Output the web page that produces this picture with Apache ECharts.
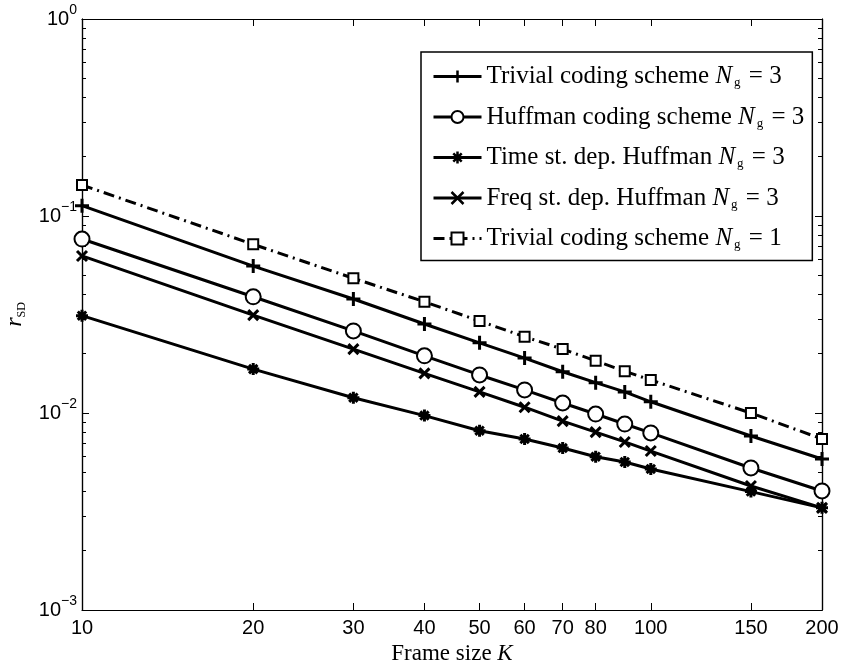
<!DOCTYPE html>
<html>
<head>
<meta charset="utf-8">
<script src="https://cdn.jsdelivr.net/npm/echarts@6/dist/echarts.min.js"></script>
<style>
html, body { margin: 0; padding: 0; background: #fff; }
#chart { width: 846px; height: 664px; }
</style>
</head>
<body>
<div id="chart"></div>
<script>
// frame sizes K
const frameSizes = [10, 20, 30, 40, 50, 60, 70, 80, 90, 100, 150, 200];

// r_SD values
const trivial3 = [0.1128, 0.0557, 0.0379, 0.0283, 0.0227, 0.0190, 0.0162, 0.01426, 0.0128, 0.0114, 0.00764, 0.00584];
const huffman3 = [0.0764, 0.0389, 0.0261, 0.0195, 0.0156, 0.0131, 0.01124, 0.00988, 0.00879, 0.00792, 0.00526, 0.00402];
const timeDep3 = [0.0312, 0.0167, 0.01196, 0.0097, 0.00813, 0.00738, 0.00664, 0.0060, 0.00564, 0.0052, 0.00399, 0.0033];
const freqDep3 = [0.0627, 0.0314, 0.0211, 0.0159, 0.0128, 0.0107, 0.0091, 0.0080, 0.00713, 0.00641, 0.00426, 0.0033];
const trivial1 = [0.1437, 0.0718, 0.0483, 0.0367, 0.0293, 0.0244, 0.0211, 0.0184, 0.0163, 0.0147, 0.0100, 0.00738];

const xTicks = [10, 20, 30, 40, 50, 60, 70, 80, 100, 150, 200];
const yMajor = [0.001, 0.01, 0.1, 1];
const yMinor = [];
for (let d = 0; d < yMajor.length - 1; d++) {
    for (let k = 2; k <= 9; k++) yMinor.push(+(yMajor[d] * k).toPrecision(3));
}

const SANS = '"Liberation Sans", Arial, sans-serif';
const SERIF = '"Liberation Serif", "Times New Roman", serif';

const pair = (ys) => frameSizes.map((x, i) => [x, ys[i]]);

const chart = echarts.init(document.getElementById('chart'));

const axisLine = { show: true, onZero: false, lineStyle: { color: '#000', width: 1.2 } };
const tickStyle = { color: '#000', width: 1 };

function xAxisDef(pos, withLabels) {
    return {
        type: 'log',
        position: pos,
        min: 10,
        max: 200,
        axisLine: axisLine,
        axisTick: { show: true, inside: true, length: 7, customValues: xTicks, lineStyle: tickStyle },
        axisLabel: {
            show: withLabels,
            customValues: xTicks,
            color: '#000',
            fontFamily: SANS,
            fontSize: 20,
            margin: 8
        },
        splitLine: { show: false },
        minorTick: { show: false },
        name: withLabels ? '{t|Frame size }{i|K}' : '',
        nameLocation: 'middle',
        nameGap: 27,
        nameTextStyle: {
            rich: {
                t: { fontFamily: SERIF, fontSize: 23, color: '#000' },
                i: { fontFamily: SERIF, fontSize: 23, fontStyle: 'italic', color: '#000' }
            }
        }
    };
}

function yAxisDef(pos, ticks, len, withLabels) {
    return {
        type: 'log',
        position: pos,
        min: 0.001,
        max: 1,
        axisLine: axisLine,
        axisTick: { show: true, inside: true, length: len, customValues: ticks, lineStyle: tickStyle },
        axisLabel: {
            show: withLabels,
            customValues: yMajor,
            margin: 5,
            formatter: (v) => '{b|10}{s|' + Math.round(Math.log10(v)).toString().replace('-', '\u2212') + '}',
            rich: {
                b: { fontFamily: SANS, fontSize: 20, lineHeight: 32, color: '#000' },
                s: { fontFamily: SANS, fontSize: 14, lineHeight: 14, verticalAlign: 'top', padding: [0, 0, 18, 0], color: '#000' }
            }
        },
        splitLine: { show: false },
        minorTick: { show: false },
        name: withLabels ? '{i|r}{s|SD}' : '',
        nameLocation: 'middle',
        nameRotate: 90,
        nameGap: 50,
        nameTextStyle: {
            rich: {
                i: { fontFamily: SERIF, fontSize: 24, fontStyle: 'italic', lineHeight: 26, color: '#000' },
                s: { fontFamily: SERIF, fontSize: 12, lineHeight: 12, verticalAlign: 'bottom', color: '#000' }
            }
        }
    };
}

const lineW = 3;
const mk = (name, data, symbol, size, dash) => ({
    name: name,
    type: 'line',
    data: pair(data),
    xAxisIndex: 0,
    yAxisIndex: 0,
    symbol: symbol,
    symbolSize: size,
    showAllSymbol: true,
    lineStyle: { color: '#000', width: lineW, type: dash || 'solid' },
    itemStyle: { color: '#000', borderColor: '#000', borderWidth: 3 },
    emphasis: { disabled: true },
    animation: false
});

const names = [
    'Trivial coding scheme N_g = 3',
    'Huffman coding scheme N_g = 3',
    'Time st. dep. Huffman N_g = 3',
    'Freq st. dep. Huffman N_g = 3',
    'Trivial coding scheme N_g = 1'
];

chart.setOption({
    animation: false,
    backgroundColor: '#fff',
    grid: { left: 82, right: 24, top: 19, bottom: 54, containLabel: false, outerBoundsMode: 'none' },
    xAxis: [xAxisDef('bottom', true), xAxisDef('top', false)],
    yAxis: [
        yAxisDef('left', yMajor, 7, true),
        yAxisDef('right', yMajor, 7, false),
        yAxisDef('left', yMinor, 4, false),
        yAxisDef('right', yMinor, 4, false)
    ],
    legend: {
        orient: 'vertical',
        left: 421,
        top: 52,
        padding: [12, 8, 9, 11],
        itemGap: 15,
        itemWidth: 48,
        itemHeight: 15,
        backgroundColor: '#fff',
        borderColor: '#000',
        borderWidth: 1.5,
        borderRadius: 0,
        selectedMode: false,
        data: names,
        lineStyle: { width: 3 },
        itemStyle: { borderWidth: 2.5 },
        formatter: (name) => {
            const m = name.match(/^(.*) N_g = (\d)$/);
            return '{t|' + m[1] + ' }{i|N}{s|g}{t| = ' + m[2] + '}';
        },
        textStyle: {
            rich: {
                t: { fontFamily: SERIF, fontSize: 25, lineHeight: 26, color: '#000' },
                i: { fontFamily: SERIF, fontSize: 25, lineHeight: 26, fontStyle: 'italic', color: '#000' },
                s: { fontFamily: SERIF, fontSize: 13, lineHeight: 13, verticalAlign: 'bottom', padding: [0, 2, 0, 2], color: '#000' }
            }
        }
    },
    series: [
        mk(names[0], trivial3, 'path://M0,6H12M6,0V12', 14),
        mk(names[1], huffman3, 'emptyCircle', 15),
        mk(names[2], timeDep3, 'path://M0,6H12M6,0V12M1.8,1.8L10.2,10.2M10.2,1.8L1.8,10.2', 12),
        mk(names[3], freqDep3, 'path://M0,0L10,10M10,0L0,10', 10),
        mk(names[4], trivial1, 'emptyRect', 10, [11, 5, 2, 5])
    ]
});
</script>
</body>
</html>
